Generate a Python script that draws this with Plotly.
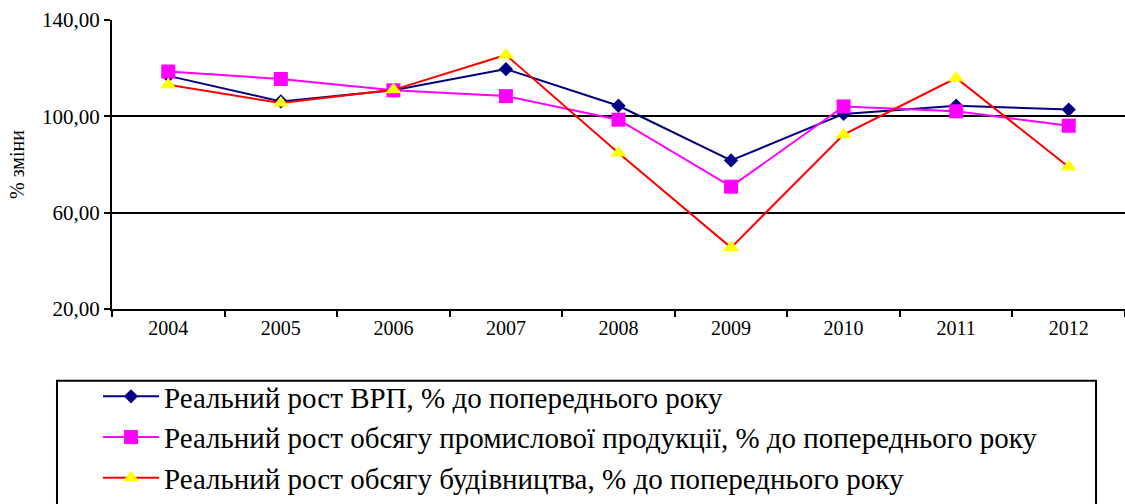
import plotly.graph_objects as go

years = ["2004", "2005", "2006", "2007", "2008", "2009", "2010", "2011", "2012"]
vrp = [116.8, 106.2, 110.8, 119.6, 104.4, 81.7, 101.0, 104.4, 102.8]
prom = [118.6, 115.5, 110.8, 108.4, 98.6, 70.8, 104.1, 102.1, 96.1]
bud = [113.1, 105.5, 111.0, 125.5, 84.8, 45.5, 92.4, 115.9, 79.0]

names = [
    "Реальний рост ВРП, % до попереднього року",
    "Реальний рост обсягу промислової продукції, % до попереднього року",
    "Реальний рост обсягу будівництва, % до попереднього року",
]
yticks = [20, 60, 100, 140]

FONT = "Liberation Serif"

fig = go.Figure()
fig.add_trace(go.Scatter(x=years, y=vrp, name=names[0], mode="lines+markers",
                         line=dict(color="#000080", width=2),
                         marker=dict(symbol="diamond", size=11, color="#000080")))
fig.add_trace(go.Scatter(x=years, y=prom, name=names[1], mode="lines+markers",
                         line=dict(color="#FF00FF", width=2),
                         marker=dict(symbol="square", size=14, color="#FF00FF")))
fig.add_trace(go.Scatter(x=years, y=bud, name=names[2], mode="lines+markers",
                         line=dict(color="#FF0000", width=2),
                         marker=dict(symbol="triangle-up", size=14, color="#FFFF00")))

fig.update_layout(
    width=1125, height=504,
    margin=dict(l=112, r=0, t=20, b=194),
    paper_bgcolor="white", plot_bgcolor="white",
    separators=", ",
    font=dict(family=FONT, color="black", size=20),
    showlegend=True,
    legend=dict(x=-0.0138, y=-0.215, xanchor="left", yanchor="top",
                font=dict(family=FONT, size=29, color="black"),
                bgcolor="rgba(0,0,0,0)", borderwidth=0,
                tracegroupgap=0, itemwidth=56),
    shapes=[dict(type="rect", xref="paper", yref="paper",
                 x0=-0.0543, x1=0.9714, y0=-0.75, y1=-0.2483,
                 line=dict(color="black", width=2), fillcolor="rgba(0,0,0,0)")],
)

fig.update_xaxes(type="category", range=[-0.5, 8.5], tickson="boundaries",
                 ticks="outside", ticklen=6, tickwidth=2, tickcolor="black",
                 showline=True, linecolor="black", linewidth=2, showgrid=False,
                 tickfont=dict(family=FONT, size=20))
fig.update_yaxes(range=[20, 140], tickvals=yticks, tickformat=".2f",
                 ticks="outside", ticklen=6, tickwidth=2, tickcolor="black",
                 showline=True, linecolor="black", linewidth=2,
                 showgrid=True, gridcolor="black", gridwidth=2,
                 zeroline=False,
                 title=dict(text="% зміни", font=dict(family=FONT, size=20), standoff=12),
                 tickfont=dict(family=FONT, size=21))

fig.write_html("out.html", config={"displayModeBar": False},
               post_script="document.body.style.margin='0';")
